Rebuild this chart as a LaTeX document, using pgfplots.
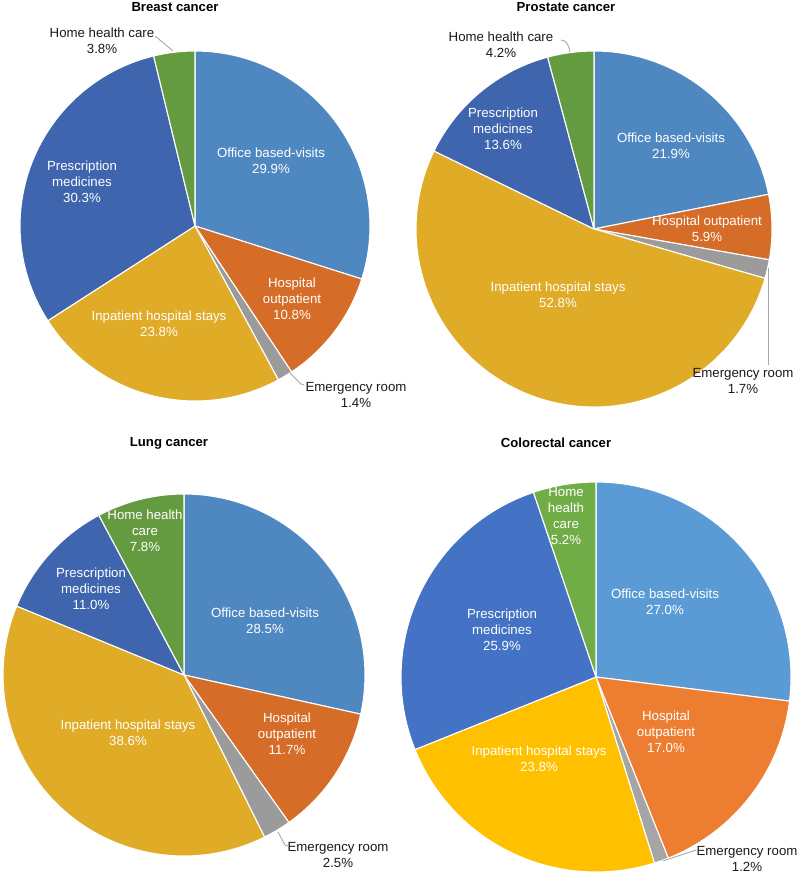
\documentclass[border=0pt]{standalone}
\usepackage{fontspec}
\setmainfont{Liberation Sans}
\usepackage{pgfplots}
\usepackage{pgfplotstable}
\pgfplotsset{compat=1.18}

% Share of costs (%) by service type
\pgfplotstableread[row sep=\\,col sep=space]{
cat breast prostate lung colorectal\\
office 29.9 21.9 28.5 27.0\\
outpatient 10.8 5.9 11.7 17.0\\
emergency 1.4 1.7 2.5 1.2\\
inpatient 23.8 52.8 38.6 23.8\\
prescription 30.3 13.6 11.0 25.9\\
home 3.8 4.2 7.8 5.2\\
}\costs

\newcommand\computepie[1]{%
  \def\pietot{0}%
  \pgfplotsforeachungrouped \i in {0,...,5}{%
    \pgfplotstablegetelem{\i}{#1}\of\costs
    \pgfmathsetmacro\pietot{\pietot+\pgfplotsretval}%
  }%
  \def\piecum{0}%
  \pgfplotsforeachungrouped \i in {0,...,5}{%
    \pgfplotstablegetelem{\i}{#1}\of\costs
    \pgfmathsetmacro\pieA{90-(\piecum/\pietot)*360}%
    \pgfmathsetmacro\piecum{\piecum+\pgfplotsretval}%
    \pgfmathsetmacro\pieB{90-(\piecum/\pietot)*360}%
    \expandafter\xdef\csname #1A\i\endcsname{\pieA}%
    \expandafter\xdef\csname #1B\i\endcsname{\pieB}%
  }%
}
\computepie{breast}
\computepie{prostate}
\computepie{lung}
\computepie{colorectal}

% darker palette (first three pies)
\definecolor{dC0}{HTML}{4F88C0}
\definecolor{dC1}{HTML}{D56C28}
\definecolor{dC2}{HTML}{9B9B9B}
\definecolor{dC3}{HTML}{E0AB27}
\definecolor{dC4}{HTML}{3E65AD}
\definecolor{dC5}{HTML}{659B40}
% brighter palette (colorectal)
\definecolor{bC0}{HTML}{5B9BD5}
\definecolor{bC1}{HTML}{ED7D31}
\definecolor{bC2}{HTML}{A5A5A5}
\definecolor{bC3}{HTML}{FFC000}
\definecolor{bC4}{HTML}{4472C4}
\definecolor{bC5}{HTML}{70AD47}
\definecolor{leader}{HTML}{A6A6A6}
\definecolor{dtext}{HTML}{1A1A1A}

\tikzset{
  lbl/.style={font=\fontsize{13.3}{16.3}\selectfont, align=center, inner sep=0pt},
  ttl/.style={font=\fontsize{13.2}{16}\selectfont\bfseries, text=black, inner sep=0pt},
}

% #1 cx, #2 cy, #3 radius, #4 column, #5 index, #6 colour
\newcommand\slice[6]{%
  \filldraw[fill=#6, draw=white, line width=1.1pt, line join=round]
    (axis cs:#1,#2) -- ++(\csname #4A#5\endcsname:#3bp)
    arc[start angle=\csname #4A#5\endcsname, end angle=\csname #4B#5\endcsname, radius=#3bp] -- cycle;%
}

\begin{document}
\begin{tikzpicture}
\begin{axis}[
  hide axis, scale only axis, clip=false,
  width=798bp, height=874bp,
  xmin=0, xmax=798, ymin=0, ymax=874,
  enlargelimits=false,
]
% ---------- Breast cancer ----------
\pgfplotsinvokeforeach{0,...,5}{\slice{195}{648}{175}{breast}{#1}{dC#1}}
\node[ttl] at (axis cs:175,867) {Breast cancer};
\node[lbl, text=white] at (axis cs:271,713) {Office based-visits\\29.9\%};
\node[lbl, text=white] at (axis cs:292,575) {Hospital\\outpatient\\10.8\%};
\node[lbl, text=white] at (axis cs:159,550) {Inpatient hospital stays\\23.8\%};
\node[lbl, text=white] at (axis cs:82,692) {Prescription\\medicines\\30.3\%};
\node[lbl, text=dtext] at (axis cs:102,833) {Home health care\\3.8\%};
\node[lbl, text=dtext] at (axis cs:356,479) {Emergency room\\1.4\%};
\draw[leader, line width=0.9pt] (axis cs:155,838) -- (axis cs:173,823);
\draw[leader, line width=0.9pt] (axis cs:290,501) -- (axis cs:301,490) -- (axis cs:304,489);
% ---------- Prostate cancer ----------
\pgfplotsinvokeforeach{0,...,5}{\slice{594}{645}{178}{prostate}{#1}{dC#1}}
\node[ttl] at (axis cs:566,867) {Prostate cancer};
\node[lbl, text=white] at (axis cs:671,728) {Office based-visits\\21.9\%};
\node[lbl, text=white] at (axis cs:707,645) {Hospital outpatient\\5.9\%};
\node[lbl, text=white] at (axis cs:558,579) {Inpatient hospital stays\\52.8\%};
\node[lbl, text=white] at (axis cs:503,745) {Prescription\\medicines\\13.6\%};
\node[lbl, text=dtext] at (axis cs:501,829) {Home health care\\4.2\%};
\node[lbl, text=dtext] at (axis cs:743,493) {Emergency room\\1.7\%};
\draw[leader, line width=0.9pt] (axis cs:561,834) to[out=0,in=100] (axis cs:570,822);
\draw[leader, line width=0.9pt] (axis cs:768,606) -- (axis cs:768,509);
% ---------- Lung cancer ----------
\pgfplotsinvokeforeach{0,...,5}{\slice{184}{199}{181}{lung}{#1}{dC#1}}
\node[ttl] at (axis cs:169,431) {Lung cancer};
\node[lbl, text=white] at (axis cs:265,253) {Office based-visits\\28.5\%};
\node[lbl, text=white] at (axis cs:287,140) {Hospital\\outpatient\\11.7\%};
\node[lbl, text=white] at (axis cs:128,141) {Inpatient hospital stays\\38.6\%};
\node[lbl, text=white] at (axis cs:91,285) {Prescription\\medicines\\11.0\%};
\node[lbl, text=white] at (axis cs:145,343) {Home health\\care\\7.8\%};
\node[lbl, text=dtext] at (axis cs:338,19) {Emergency room\\2.5\%};
\draw[leader, line width=0.9pt] (axis cs:278,42) -- (axis cs:285,29) -- (axis cs:288,28);
% ---------- Colorectal cancer ----------
\pgfplotsinvokeforeach{0,...,5}{\slice{596}{197}{195}{colorectal}{#1}{bC#1}}
\node[ttl] at (axis cs:556,431) {Colorectal cancer};
\node[lbl, text=white] at (axis cs:665,272) {Office based-visits\\27.0\%};
\node[lbl, text=white] at (axis cs:666,142) {Hospital\\outpatient\\17.0\%};
\node[lbl, text=white] at (axis cs:539,115) {Inpatient hospital stays\\23.8\%};
\node[lbl, text=white] at (axis cs:502,244) {Prescription\\medicines\\25.9\%};
\node[lbl, text=white] at (axis cs:566,358) {Home\\health\\care\\5.2\%};
\node[lbl, text=dtext] at (axis cs:747,15) {Emergency room\\1.2\%};
\draw[leader, line width=0.9pt] (axis cs:663,13) -- (axis cs:696,24);
\end{axis}
\pgfresetboundingbox
\path (0,0) rectangle (798bp,874bp);
\end{tikzpicture}
\end{document}
